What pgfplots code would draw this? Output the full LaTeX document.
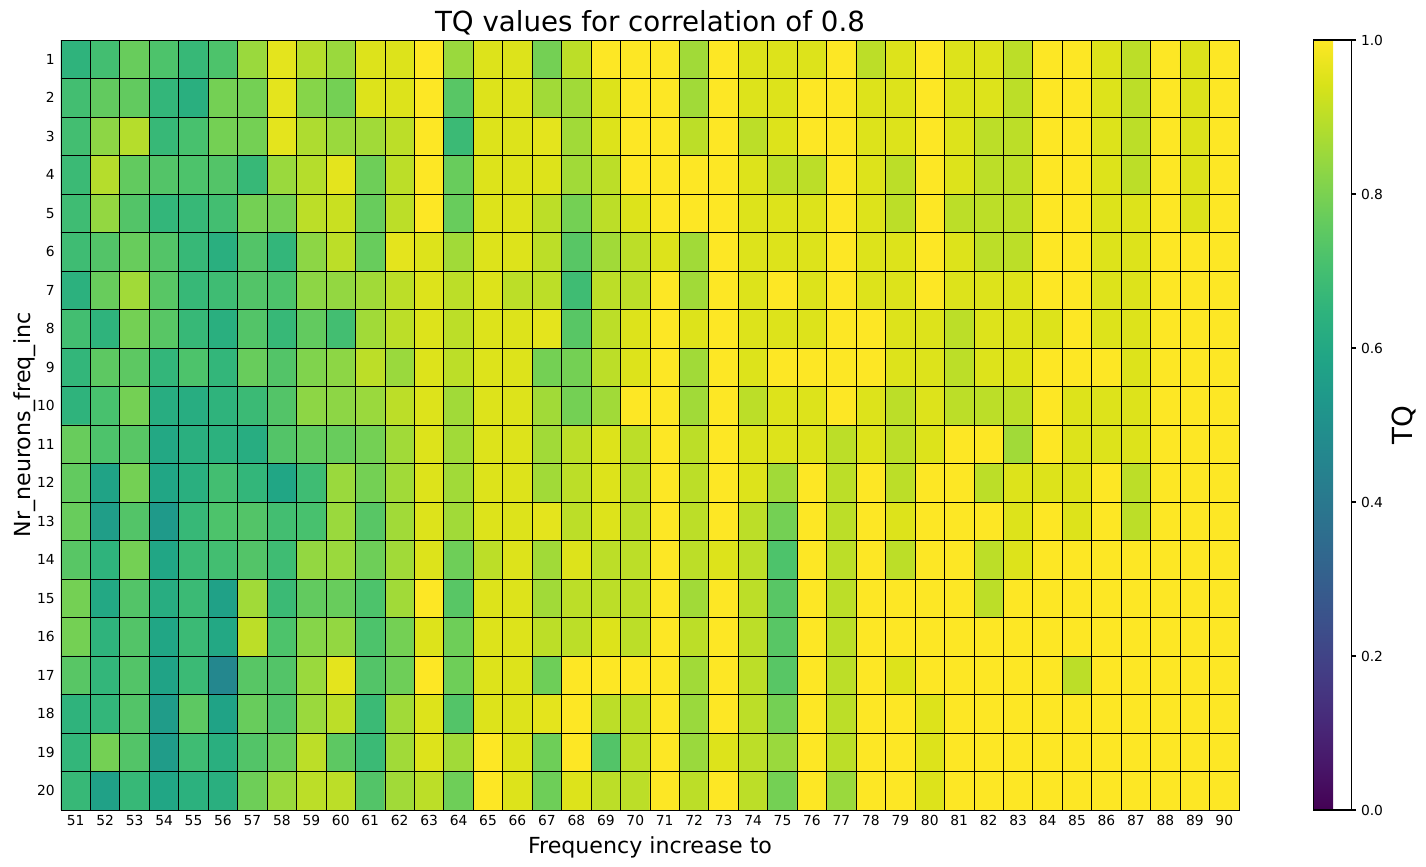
\documentclass[border=0pt]{standalone}
\usepackage{fontspec}
\setmainfont{DejaVu Sans}
\usepackage{pgfplots}
\pgfplotsset{compat=1.18}
\begin{document}
\begin{tikzpicture}
\path[use as bounding box] (-43.92bp,-41.04bp) rectangle (982.8bp,583.2bp);
\begin{axis}[
  at={(0,0)}, anchor=south west,
  scale only axis, width=848.16bp, height=554.4bp,
  xmin=50.5, xmax=90.5, ymin=0.5, ymax=20.5, y dir=reverse,
  xtick={51,...,90}, ytick={1,...,20},
  minor xtick={50.5,51.5,...,90.5}, minor ytick={0.5,1.5,...,20.5},
  xminorgrids=true, yminorgrids=true,
  minor grid style={black, line width=0.6bp},
  major tick length=0pt, minor tick length=0pt,
  axis line style={black, line width=0.6bp},
  axis on top,
  tick label style={font=\fontsize{10}{12}\selectfont},
  xticklabel style={anchor=base, inner sep=0pt, yshift=-11.3bp},
  yticklabel style={anchor=east, inner sep=0pt, xshift=-4.3bp},
  /pgf/number format/assume math mode=true,
  colormap name=viridis,
  point meta min=0, point meta max=1,
  title={TQ values for correlation of 0.8},
  every axis title/.style={at={(axis description cs:0.5,1.0108)}, anchor=base, font=\fontsize{20}{24}\selectfont},
  xlabel={Frequency increase to},
  every axis x label/.style={at={(axis description cs:0.5,-0.05623)}, anchor=base, font=\fontsize{16}{19}\selectfont},
  ylabel={Nr\_neurons\_freq\_inc},
  every axis y label/.style={at={(axis description cs:-0.02574,0.5)}, rotate=90, anchor=base, font=\fontsize{16}{19}\selectfont},
  colorbar,
  colorbar shift/.style={xshift=53.5bp},
  colorbar style={
    at={(parent axis.north east)}, anchor=north west,
    scale only axis, width=27.36bp, height=554.4bp,
    y dir=normal, title={}, xlabel={},
    xtick=\empty, ytick={0,0.2,0.4,0.6,0.8,1},
    xminorgrids=false, yminorgrids=false,
    ytick pos=right, yticklabel pos=right,
    tick align=outside, major tick length=3.5bp,
    tick style={black, line width=0.8bp},
    axis line style={black, line width=0.8bp},
    /pgf/number format/assume math mode=true,
    every y tick label/.style={anchor=west, inner sep=0pt, xshift=3.3bp, font=\fontsize{10}{12}\selectfont},
    yticklabel style={/pgf/number format/.cd, fixed, fixed zerofill, precision=1, assume math mode=true},
    ylabel={TQ},
    every axis y label/.style={at={(axis description cs:2.62,0.5)}, rotate=90, anchor=base, font=\fontsize{20}{24}\selectfont},
  },
]
\addplot[matrix plot*, mesh/cols=40, mesh/rows=20, point meta=explicit]
table[row sep=\\, x=x, y=y, meta=c]{
x y c\\
51 1 0.65\\52 1 0.70\\53 1 0.77\\54 1 0.72\\55 1 0.67\\56 1 0.72\\57 1 0.85\\58 1 0.96\\59 1 0.89\\60 1 0.85\\61 1 0.95\\62 1 0.95\\63 1 1\\64 1 0.85\\65 1 0.95\\66 1 0.95\\67 1 0.79\\68 1 0.90\\69 1 1\\70 1 1\\71 1 1\\72 1 0.86\\73 1 1\\74 1 0.95\\75 1 0.95\\76 1 0.95\\77 1 1\\78 1 0.90\\79 1 0.95\\80 1 1\\81 1 0.95\\82 1 0.95\\83 1 0.90\\84 1 1\\85 1 1\\86 1 0.95\\87 1 0.90\\88 1 1\\89 1 0.95\\90 1 1\\
51 2 0.70\\52 2 0.76\\53 2 0.76\\54 2 0.66\\55 2 0.63\\56 2 0.79\\57 2 0.79\\58 2 0.96\\59 2 0.82\\60 2 0.79\\61 2 0.95\\62 2 0.95\\63 2 1\\64 2 0.74\\65 2 0.95\\66 2 0.95\\67 2 0.86\\68 2 0.86\\69 2 0.95\\70 2 1\\71 2 1\\72 2 0.86\\73 2 1\\74 2 0.95\\75 2 0.95\\76 2 1\\77 2 1\\78 2 0.95\\79 2 0.95\\80 2 1\\81 2 0.95\\82 2 0.95\\83 2 0.90\\84 2 1\\85 2 1\\86 2 0.95\\87 2 0.90\\88 2 1\\89 2 0.95\\90 2 1\\
51 3 0.70\\52 3 0.83\\53 3 0.89\\54 3 0.67\\55 3 0.71\\56 3 0.79\\57 3 0.79\\58 3 0.96\\59 3 0.88\\60 3 0.85\\61 3 0.86\\62 3 0.90\\63 3 1\\64 3 0.68\\65 3 0.95\\66 3 0.95\\67 3 0.96\\68 3 0.86\\69 3 0.95\\70 3 1\\71 3 1\\72 3 0.90\\73 3 1\\74 3 0.90\\75 3 0.95\\76 3 1\\77 3 1\\78 3 0.95\\79 3 0.95\\80 3 1\\81 3 0.95\\82 3 0.90\\83 3 0.90\\84 3 1\\85 3 1\\86 3 0.95\\87 3 0.90\\88 3 1\\89 3 0.95\\90 3 1\\
51 4 0.68\\52 4 0.89\\53 4 0.76\\54 4 0.73\\55 4 0.72\\56 4 0.73\\57 4 0.67\\58 4 0.85\\59 4 0.89\\60 4 0.96\\61 4 0.78\\62 4 0.90\\63 4 1\\64 4 0.77\\65 4 0.95\\66 4 0.95\\67 4 0.95\\68 4 0.86\\69 4 0.90\\70 4 1\\71 4 1\\72 4 1\\73 4 1\\74 4 0.95\\75 4 0.90\\76 4 0.90\\77 4 1\\78 4 0.95\\79 4 0.90\\80 4 1\\81 4 0.95\\82 4 0.90\\83 4 0.90\\84 4 1\\85 4 1\\86 4 0.95\\87 4 0.90\\88 4 1\\89 4 0.95\\90 4 1\\
51 5 0.69\\52 5 0.84\\53 5 0.73\\54 5 0.66\\55 5 0.67\\56 5 0.70\\57 5 0.79\\58 5 0.79\\59 5 0.90\\60 5 0.92\\61 5 0.77\\62 5 0.90\\63 5 1\\64 5 0.77\\65 5 0.95\\66 5 0.95\\67 5 0.90\\68 5 0.79\\69 5 0.90\\70 5 0.95\\71 5 1\\72 5 1\\73 5 1\\74 5 0.95\\75 5 0.95\\76 5 0.95\\77 5 1\\78 5 0.95\\79 5 0.90\\80 5 1\\81 5 0.90\\82 5 0.90\\83 5 0.90\\84 5 1\\85 5 1\\86 5 0.95\\87 5 0.95\\88 5 1\\89 5 0.95\\90 5 1\\
51 6 0.69\\52 6 0.73\\53 6 0.77\\54 6 0.73\\55 6 0.67\\56 6 0.63\\57 6 0.73\\58 6 0.66\\59 6 0.83\\60 6 0.90\\61 6 0.77\\62 6 0.96\\63 6 0.95\\64 6 0.86\\65 6 0.95\\66 6 0.95\\67 6 0.90\\68 6 0.74\\69 6 0.86\\70 6 0.90\\71 6 0.95\\72 6 0.86\\73 6 1\\74 6 0.95\\75 6 0.95\\76 6 0.95\\77 6 1\\78 6 0.95\\79 6 0.95\\80 6 1\\81 6 0.95\\82 6 0.90\\83 6 0.90\\84 6 1\\85 6 1\\86 6 0.95\\87 6 0.95\\88 6 1\\89 6 1\\90 6 1\\
51 7 0.64\\52 7 0.77\\53 7 0.86\\54 7 0.74\\55 7 0.67\\56 7 0.69\\57 7 0.73\\58 7 0.72\\59 7 0.83\\60 7 0.84\\61 7 0.86\\62 7 0.90\\63 7 0.95\\64 7 0.90\\65 7 0.95\\66 7 0.90\\67 7 0.90\\68 7 0.69\\69 7 0.90\\70 7 0.90\\71 7 1\\72 7 0.86\\73 7 1\\74 7 0.95\\75 7 1\\76 7 0.95\\77 7 1\\78 7 0.95\\79 7 0.95\\80 7 1\\81 7 0.95\\82 7 0.95\\83 7 0.95\\84 7 1\\85 7 1\\86 7 0.95\\87 7 0.95\\88 7 1\\89 7 1\\90 7 1\\
51 8 0.70\\52 8 0.65\\53 8 0.79\\54 8 0.74\\55 8 0.67\\56 8 0.63\\57 8 0.73\\58 8 0.67\\59 8 0.76\\60 8 0.70\\61 8 0.86\\62 8 0.90\\63 8 0.95\\64 8 0.90\\65 8 0.95\\66 8 0.95\\67 8 0.96\\68 8 0.74\\69 8 0.90\\70 8 0.95\\71 8 1\\72 8 0.95\\73 8 1\\74 8 0.95\\75 8 0.95\\76 8 0.95\\77 8 1\\78 8 1\\79 8 0.95\\80 8 0.95\\81 8 0.90\\82 8 0.95\\83 8 0.95\\84 8 0.95\\85 8 1\\86 8 0.95\\87 8 0.95\\88 8 1\\89 8 1\\90 8 1\\
51 9 0.66\\52 9 0.75\\53 9 0.75\\54 9 0.66\\55 9 0.72\\56 9 0.66\\57 9 0.77\\58 9 0.73\\59 9 0.81\\60 9 0.83\\61 9 0.90\\62 9 0.85\\63 9 0.95\\64 9 0.90\\65 9 0.95\\66 9 0.95\\67 9 0.79\\68 9 0.79\\69 9 0.90\\70 9 0.95\\71 9 1\\72 9 0.86\\73 9 1\\74 9 0.95\\75 9 1\\76 9 1\\77 9 1\\78 9 1\\79 9 0.95\\80 9 0.95\\81 9 0.90\\82 9 0.95\\83 9 0.95\\84 9 1\\85 9 1\\86 9 1\\87 9 0.95\\88 9 1\\89 9 1\\90 9 1\\
51 10 0.65\\52 10 0.71\\53 10 0.79\\54 10 0.62\\55 10 0.62\\56 10 0.65\\57 10 0.68\\58 10 0.73\\59 10 0.83\\60 10 0.83\\61 10 0.85\\62 10 0.90\\63 10 0.95\\64 10 0.86\\65 10 0.95\\66 10 0.95\\67 10 0.86\\68 10 0.79\\69 10 0.86\\70 10 1\\71 10 1\\72 10 0.86\\73 10 1\\74 10 0.90\\75 10 0.95\\76 10 0.95\\77 10 1\\78 10 0.95\\79 10 0.90\\80 10 0.95\\81 10 0.90\\82 10 0.90\\83 10 0.90\\84 10 1\\85 10 0.95\\86 10 0.95\\87 10 0.95\\88 10 1\\89 10 1\\90 10 1\\
51 11 0.77\\52 11 0.72\\53 11 0.74\\54 11 0.60\\55 11 0.63\\56 11 0.64\\57 11 0.62\\58 11 0.73\\59 11 0.76\\60 11 0.77\\61 11 0.79\\62 11 0.86\\63 11 0.95\\64 11 0.86\\65 11 0.95\\66 11 0.95\\67 11 0.86\\68 11 0.90\\69 11 0.95\\70 11 0.90\\71 11 1\\72 11 0.90\\73 11 1\\74 11 0.95\\75 11 0.95\\76 11 0.95\\77 11 0.90\\78 11 0.95\\79 11 0.90\\80 11 0.95\\81 11 1\\82 11 1\\83 11 0.86\\84 11 1\\85 11 0.95\\86 11 0.95\\87 11 0.95\\88 11 1\\89 11 1\\90 11 1\\
51 12 0.76\\52 12 0.58\\53 12 0.79\\54 12 0.59\\55 12 0.63\\56 12 0.70\\57 12 0.66\\58 12 0.59\\59 12 0.69\\60 12 0.85\\61 12 0.79\\62 12 0.86\\63 12 0.95\\64 12 0.86\\65 12 0.95\\66 12 0.95\\67 12 0.86\\68 12 0.90\\69 12 0.95\\70 12 0.90\\71 12 1\\72 12 0.90\\73 12 1\\74 12 0.95\\75 12 0.86\\76 12 1\\77 12 0.90\\78 12 1\\79 12 0.90\\80 12 1\\81 12 1\\82 12 0.90\\83 12 0.95\\84 12 0.95\\85 12 0.95\\86 12 1\\87 12 0.90\\88 12 1\\89 12 1\\90 12 1\\
51 13 0.77\\52 13 0.56\\53 13 0.73\\54 13 0.54\\55 13 0.67\\56 13 0.72\\57 13 0.73\\58 13 0.70\\59 13 0.71\\60 13 0.85\\61 13 0.74\\62 13 0.86\\63 13 0.95\\64 13 0.86\\65 13 0.95\\66 13 0.95\\67 13 0.96\\68 13 0.90\\69 13 0.95\\70 13 0.90\\71 13 1\\72 13 0.90\\73 13 1\\74 13 0.90\\75 13 0.79\\76 13 1\\77 13 0.90\\78 13 1\\79 13 0.95\\80 13 1\\81 13 1\\82 13 1\\83 13 0.95\\84 13 1\\85 13 0.95\\86 13 1\\87 13 0.90\\88 13 1\\89 13 1\\90 13 1\\
51 14 0.74\\52 14 0.65\\53 14 0.79\\54 14 0.59\\55 14 0.68\\56 14 0.70\\57 14 0.73\\58 14 0.69\\59 14 0.84\\60 14 0.85\\61 14 0.78\\62 14 0.86\\63 14 0.95\\64 14 0.78\\65 14 0.90\\66 14 0.95\\67 14 0.86\\68 14 0.95\\69 14 0.90\\70 14 0.90\\71 14 1\\72 14 0.90\\73 14 0.95\\74 14 0.90\\75 14 0.72\\76 14 1\\77 14 0.90\\78 14 1\\79 14 0.90\\80 14 1\\81 14 1\\82 14 0.90\\83 14 0.95\\84 14 1\\85 14 1\\86 14 1\\87 14 1\\88 14 1\\89 14 1\\90 14 1\\
51 15 0.79\\52 15 0.60\\53 15 0.73\\54 15 0.62\\55 15 0.68\\56 15 0.57\\57 15 0.86\\58 15 0.68\\59 15 0.76\\60 15 0.77\\61 15 0.72\\62 15 0.86\\63 15 1\\64 15 0.74\\65 15 0.95\\66 15 0.95\\67 15 0.86\\68 15 0.90\\69 15 0.90\\70 15 0.90\\71 15 1\\72 15 0.86\\73 15 1\\74 15 0.90\\75 15 0.74\\76 15 1\\77 15 0.90\\78 15 1\\79 15 1\\80 15 1\\81 15 1\\82 15 0.90\\83 15 1\\84 15 1\\85 15 1\\86 15 1\\87 15 1\\88 15 1\\89 15 1\\90 15 1\\
51 16 0.79\\52 16 0.65\\53 16 0.73\\54 16 0.59\\55 16 0.68\\56 16 0.60\\57 16 0.90\\58 16 0.72\\59 16 0.82\\60 16 0.84\\61 16 0.72\\62 16 0.79\\63 16 0.95\\64 16 0.78\\65 16 0.95\\66 16 0.95\\67 16 0.90\\68 16 0.90\\69 16 0.95\\70 16 0.90\\71 16 1\\72 16 0.90\\73 16 1\\74 16 0.90\\75 16 0.74\\76 16 1\\77 16 0.90\\78 16 1\\79 16 1\\80 16 1\\81 16 1\\82 16 1\\83 16 1\\84 16 1\\85 16 1\\86 16 1\\87 16 1\\88 16 1\\89 16 1\\90 16 1\\
51 17 0.74\\52 17 0.66\\53 17 0.73\\54 17 0.58\\55 17 0.68\\56 17 0.46\\57 17 0.74\\58 17 0.73\\59 17 0.85\\60 17 0.96\\61 17 0.73\\62 17 0.78\\63 17 1\\64 17 0.78\\65 17 0.95\\66 17 0.95\\67 17 0.78\\68 17 1\\69 17 1\\70 17 1\\71 17 1\\72 17 0.86\\73 17 1\\74 17 0.90\\75 17 0.74\\76 17 1\\77 17 0.90\\78 17 1\\79 17 0.95\\80 17 1\\81 17 1\\82 17 1\\83 17 1\\84 17 1\\85 17 0.90\\86 17 1\\87 17 1\\88 17 1\\89 17 1\\90 17 1\\
51 18 0.65\\52 18 0.66\\53 18 0.73\\54 18 0.55\\55 18 0.75\\56 18 0.58\\57 18 0.77\\58 18 0.73\\59 18 0.85\\60 18 0.90\\61 18 0.68\\62 18 0.86\\63 18 0.95\\64 18 0.73\\65 18 0.95\\66 18 0.95\\67 18 0.96\\68 18 1\\69 18 0.90\\70 18 0.90\\71 18 1\\72 18 0.85\\73 18 1\\74 18 0.90\\75 18 0.79\\76 18 1\\77 18 0.90\\78 18 1\\79 18 1\\80 18 0.95\\81 18 1\\82 18 1\\83 18 1\\84 18 1\\85 18 1\\86 18 1\\87 18 1\\88 18 1\\89 18 1\\90 18 1\\
51 19 0.66\\52 19 0.79\\53 19 0.73\\54 19 0.55\\55 19 0.69\\56 19 0.63\\57 19 0.73\\58 19 0.77\\59 19 0.90\\60 19 0.75\\61 19 0.68\\62 19 0.86\\63 19 0.95\\64 19 0.86\\65 19 1\\66 19 0.95\\67 19 0.78\\68 19 1\\69 19 0.73\\70 19 0.90\\71 19 1\\72 19 0.85\\73 19 0.95\\74 19 0.90\\75 19 0.85\\76 19 1\\77 19 0.90\\78 19 1\\79 19 1\\80 19 0.95\\81 19 1\\82 19 1\\83 19 1\\84 19 1\\85 19 1\\86 19 1\\87 19 1\\88 19 1\\89 19 1\\90 19 1\\
51 20 0.67\\52 20 0.57\\53 20 0.67\\54 20 0.59\\55 20 0.64\\56 20 0.63\\57 20 0.78\\58 20 0.85\\59 20 0.90\\60 20 0.90\\61 20 0.73\\62 20 0.86\\63 20 0.90\\64 20 0.78\\65 20 1\\66 20 0.95\\67 20 0.78\\68 20 0.95\\69 20 0.90\\70 20 0.90\\71 20 1\\72 20 0.90\\73 20 1\\74 20 0.90\\75 20 0.79\\76 20 1\\77 20 0.85\\78 20 1\\79 20 1\\80 20 0.95\\81 20 1\\82 20 1\\83 20 1\\84 20 1\\85 20 1\\86 20 1\\87 20 1\\88 20 1\\89 20 1\\90 20 1\\
};
\end{axis}
\end{tikzpicture}
\end{document}
